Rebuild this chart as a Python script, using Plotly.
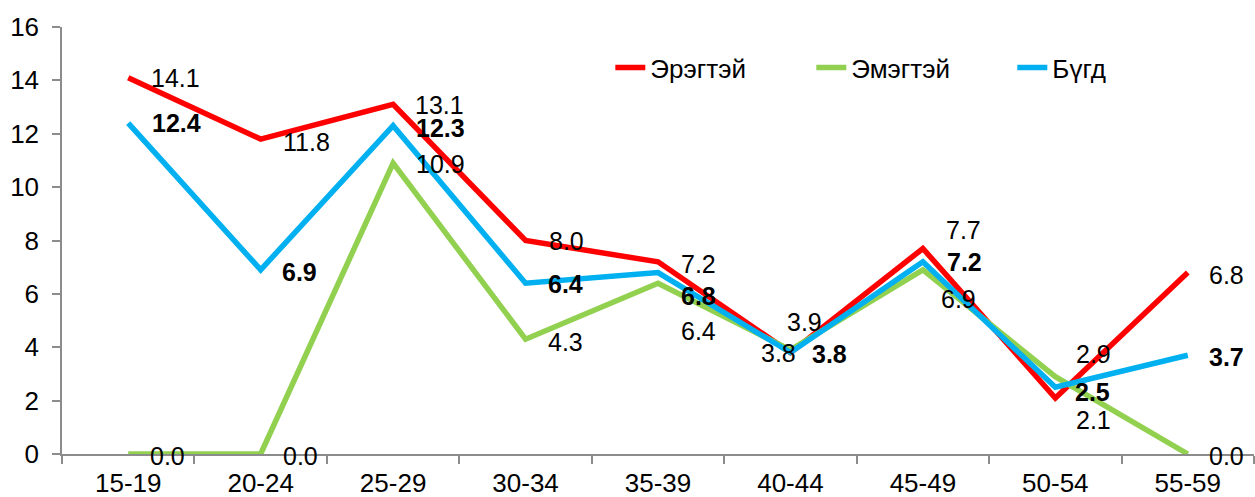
import plotly.graph_objects as go

age_groups = ["15-19", "20-24", "25-29", "30-34", "35-39", "40-44", "45-49", "50-54", "55-59"]
male = [14.1, 11.8, 13.1, 8.0, 7.2, 3.8, 7.7, 2.1, 6.8]
female = [0.0, 0.0, 10.9, 4.3, 6.4, 3.9, 6.9, 2.9, 0.0]
total = [12.4, 6.9, 12.3, 6.4, 6.8, 3.8, 7.2, 2.5, 3.7]

# label offsets in px (dx right, dy down) relative to each point
male_shift = [(24, 0), (23, 3), (23, 1), (24, 0), (24, 2), (-28, 0), (24, -19), (22, 22), (22, 2)]
female_shift = [(23, 2), (23, 2), (24, 1), (23, 3), (24, 48), (-2, -28), (19, 29), (22, -23), (22, 2)]
total_shift = [(25, 0), (22, 2), (24, 2), (23, 1), (24, 23), (23, 1), (25, 0), (21, 5), (22, 2)]

FONT = "Liberation Sans, Arial, sans-serif"
AXIS_GREY = "#8c8c8c"

series = [
    ("Эрэгтэй", male, "#ff0000", male_shift, False),
    ("Эмэгтэй", female, "#92d050", female_shift, False),
    ("Бүгд", total, "#00b0f0", total_shift, True),
]

fig = go.Figure()
annotations = []
for name, values, color, shifts, bold in series:
    fig.add_trace(go.Scatter(
        x=age_groups, y=values, name=name, mode="lines",
        line=dict(color=color, width=5.5),
    ))
    for cat, v, (dx, dy) in zip(age_groups, values, shifts):
        txt = f"{v:.1f}"
        annotations.append(dict(
            x=cat, y=v, text=f"<b>{txt}</b>" if bold else txt,
            showarrow=False, xanchor="left", yanchor="middle",
            xshift=dx - 3, yshift=-dy,
            font=dict(family=FONT, size=25, color="black"),
        ))

fig.update_layout(
    width=1255, height=497,
    margin=dict(l=62, r=1, t=27, b=43),
    paper_bgcolor="white", plot_bgcolor="white",
    font=dict(family=FONT, size=26, color="black"),
    annotations=annotations,
    showlegend=True,
    legend=dict(
        orientation="h", x=0.46, y=0.905, xanchor="left", yanchor="middle",
        font=dict(family=FONT, size=26, color="black"),
        bgcolor="rgba(0,0,0,0)", entrywidth=156, entrywidthmode="pixels",
        itemclick=False,
    ),
    xaxis=dict(
        type="category", range=[-0.5, 8.5], automargin=False,
        showline=True, linecolor=AXIS_GREY, linewidth=1.5,
        ticks="outside", tickson="boundaries", ticklen=8, tickcolor=AXIS_GREY, tickwidth=1.5,
        showgrid=False, zeroline=False, ticklabelstandoff=5,
    ),
    yaxis=dict(
        range=[0, 16], dtick=2, tick0=0, automargin=False,
        showline=True, linecolor=AXIS_GREY, linewidth=1.5,
        ticks="outside", ticklen=8, tickcolor=AXIS_GREY, tickwidth=1.5,
        showgrid=False, zeroline=False, ticklabelstandoff=8,
    ),
)

# page body has a default 8px margin; drop it so the figure sits at the corner
fig.write_html("out.html", config={"displayModeBar": False},
               post_script="document.body.style.margin='0';")
